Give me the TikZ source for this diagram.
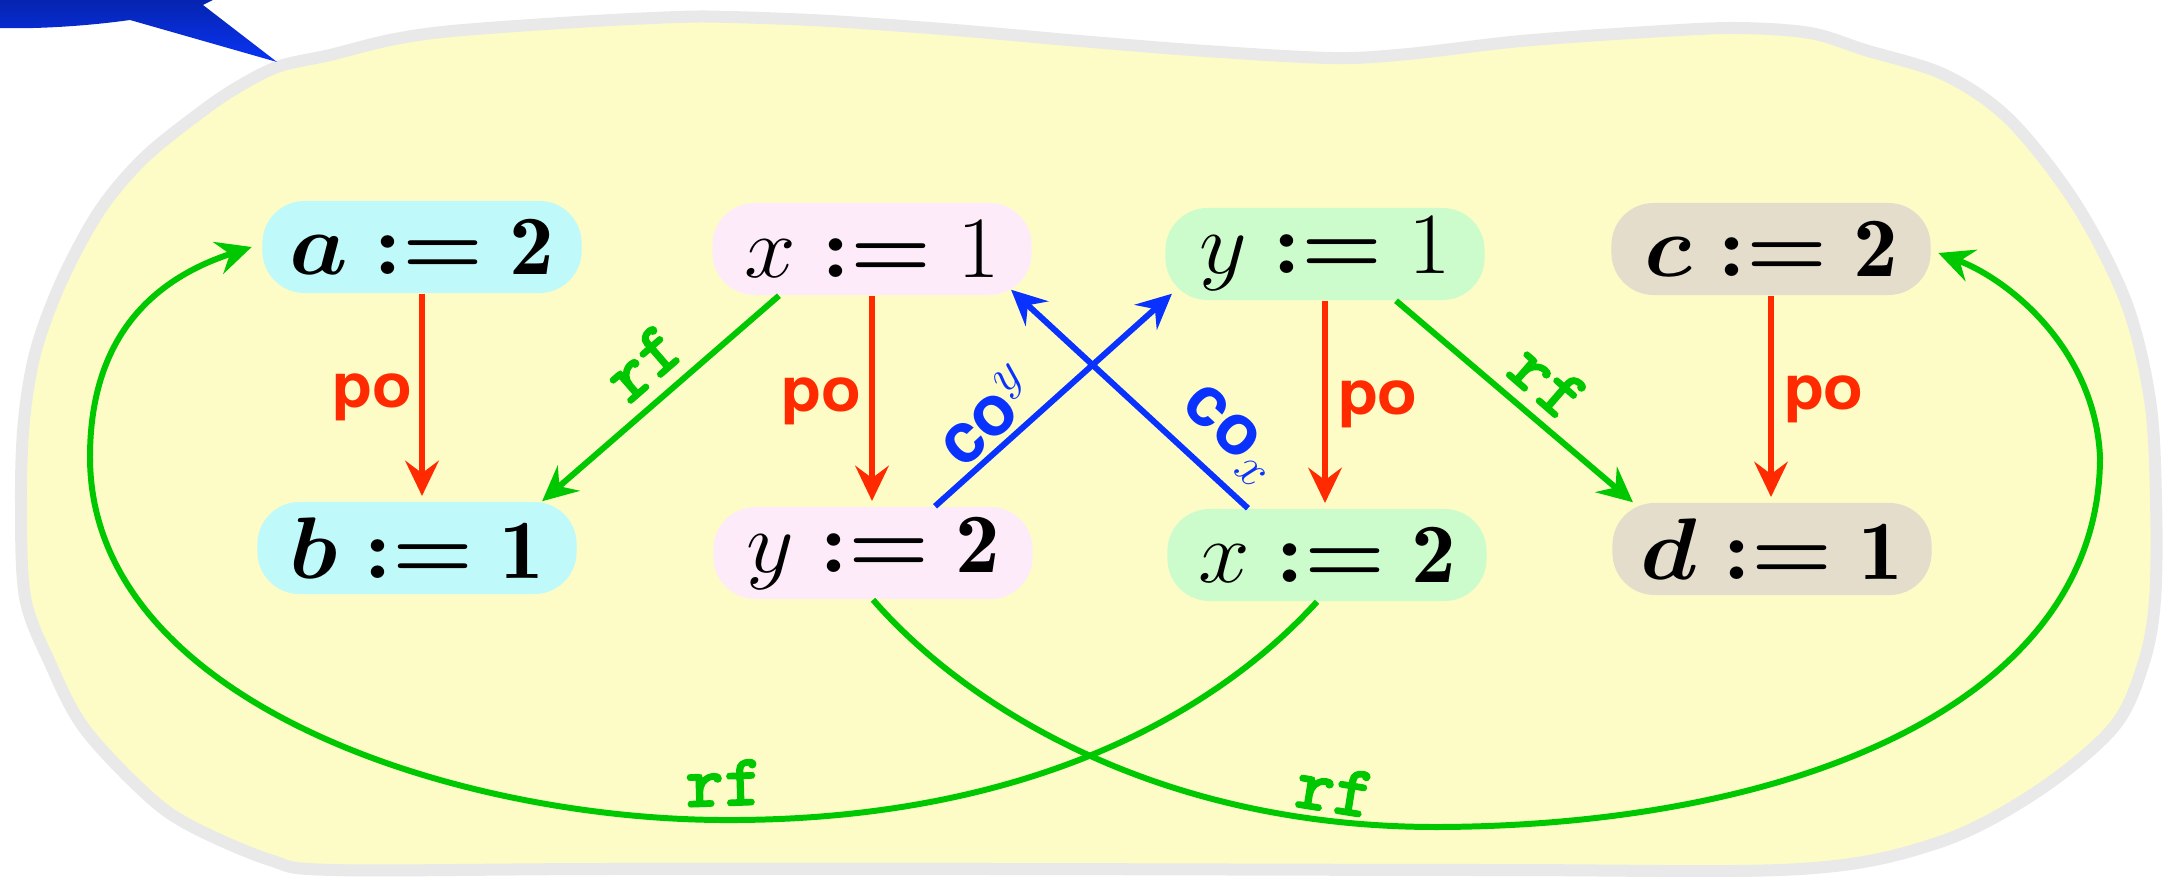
\documentclass[tikz,border=0pt]{standalone}
\usepackage{bm}
\usepackage{fontspec}
\newfontfamily\lblfont{TeX Gyre Heros}
\newfontfamily\rffont{lmmonolt10-bold.otf}[FakeBold=1.6]
\usetikzlibrary{arrows.meta,calc}
\definecolor{cyel}{HTML}{FDFCC6}
\definecolor{cgray}{HTML}{E9E9E9}
\definecolor{ccyan}{HTML}{BFF9F9}
\definecolor{cpink}{HTML}{FDEBFA}
\definecolor{cmint}{HTML}{CCFCCC}
\definecolor{cbeige}{HTML}{E5DDCB}
\definecolor{cred}{HTML}{FF2A00}
\definecolor{cgreen}{HTML}{00C800}
\definecolor{cblue}{HTML}{0A32FF}
\definecolor{cbdark}{HTML}{0524B0}
\definecolor{cblight}{HTML}{0A34F5}
\newcommand{\asg}{\mathrel{\bm{:}}\mathrel{\bm{=}}}
\newcommand{\wide}[1]{\scalebox{1.06}[1]{#1}}
\begin{document}
\begin{tikzpicture}[x=0.01cm,y=-0.01cm,
  evbox/.style={draw=none, rounded corners=12pt, minimum width=3.19cm, minimum height=0.92cm, inner sep=0pt, font=\fontsize{24}{28}\selectfont},
  arrtip/.style={-{Stealth[length=10pt,width=9.5pt,inset=3.5pt]}},
  poedge/.style={draw=cred, line width=1.7pt, arrtip, shorten >=1.5pt},
  rfedge/.style={draw=cgreen, line width=1.7pt, arrtip},
  coedge/.style={draw=cblue, line width=1.7pt, arrtip},
  polab/.style={text=cred, font=\fontsize{17.5}{20}\selectfont\lblfont\bfseries, inner sep=0pt},
  rflab/.style={text=cgreen, font=\fontsize{21}{24}\selectfont\rffont, inner sep=0pt},
  colab/.style={text=cblue, font=\fontsize{20}{23}\selectfont\lblfont\bfseries, inner sep=0pt},
]
\useasboundingbox (0,0) rectangle (2173,882);
% blob
\filldraw[fill=cyel, draw=cgray, line width=0.12cm] plot[smooth cycle, tension=0.55] coordinates {
(280,66) (330,55) (390,40) (452,31) (577,22) (678,17) (730,17) (830,21) (955,30) (1080,41) (1206,51) (1332,58) (1408,54) (1521,41) (1647,32) (1735,28) (1810,33) (1865,50) (1945,75) (2010,120) (2076,204) (2126,302) (2150,400) (2156,500) (2155,600) (2143,665) (2113,728) (2035,793) (1937,843) (1800,869) (1500,870) (1000,869) (600,869) (333,870) (270,860) (191,826) (146,794) (84,728) (50,663) (25,597) (21,500) (24,420) (36,350) (62,280) (100,210) (145,157) (205,109) (243,84)};
% blue callout tail
\shade[top color=cbdark, bottom color=cblight] (0,0) -- (213,0) -- (203,5) -- (277,62) -- (130,20) .. controls (80,27) and (30,29) .. (0,28) -- cycle;
% nodes
\node[evbox, fill=ccyan] (na) at (422,247) {\wide{$\bm{a} \asg \mathbf{2}$}};
\node[evbox, fill=cpink] (nx1) at (872,249) {\wide{$x \asg 1$}};
\node[evbox, fill=cmint] (ny1) at (1325,254) {\wide{$y \asg 1$}};
\node[evbox, fill=cbeige] (nc) at (1771,249) {\wide{$\bm{c} \asg \mathbf{2}$}};
\node[evbox, fill=ccyan] (nb) at (417,548) {\wide{$\bm{b} \asg \mathbf{1}$}};
\node[evbox, fill=cpink] (ny2) at (873,553) {\wide{$y \asg \mathbf{2}$}};
\node[evbox, fill=cmint] (nx2) at (1327,555) {\wide{$x \asg \mathbf{2}$}};
\node[evbox, fill=cbeige] (nd) at (1772,549) {\wide{$\bm{d} \asg \mathbf{1}$}};
% po
\draw[poedge] (na.south) -- (na.south |- nb.north) node[polab, midway, left=0.07cm] (po1) {\wide{po}};
\draw[poedge] (nx1.south) -- (nx1.south |- ny2.north) node[polab, midway, left=0.08cm] (po2) {\wide{po}};
\draw[poedge] (ny1.south) -- (ny1.south |- nx2.north) node[polab, midway, right=0.1cm] (po3) {\wide{po}};
\draw[poedge] (nc.south) -- (nc.south |- nd.north) node[polab, midway, right=0.1cm] (po4) {\wide{po}};
% rf straight
\draw[rfedge] ([xshift=-0.93cm]nx1.south) -- ([xshift=1.25cm]nb.north);
\node[rflab, rotate=41] (rf1) at (643,363) {rf};
\draw[rfedge] ([xshift=0.71cm]ny1.south) -- ([xshift=-1.39cm]nd.north);
\node[rflab, rotate=-41] (rf2) at (1548,382) {rf};
% co
\draw[coedge] ([xshift=0.62cm]ny2.north) -- ([xshift=-1.53cm,yshift=0.07cm]ny1.south);
\node[colab, rotate=43] (co1) at (987,416) {co$^{y}$};
\draw[coedge] ([xshift=-0.79cm]nx2.north) -- ([xshift=1.39cm,yshift=0.06cm]nx1.south);
\node[colab, rotate=-43] (co2) at (1230,436) {co$_{x}$};
% rf curves
\draw[rfedge] ([xshift=-0.1cm]nx2.south) .. controls (1200,730) and (1000,822) .. (720,820) .. controls (450,818) and (90,700) .. (90,457) .. controls (90,340) and (150,280) .. ([xshift=-0.1cm]na.west);
\node[rflab, rotate=2] (rf3) at (724,783) {rf};
\draw[rfedge] (ny2.south) .. controls (960,700) and (1150,828) .. (1440,827) .. controls (1800,825) and (2100,700) .. (2100,457) .. controls (2095,350) and (2010,280) .. ([xshift=0.07cm,yshift=-0.04cm]nc.east);
\node[rflab, rotate=-9] (rf4) at (1335,790) {rf};
\end{tikzpicture}
\end{document}
